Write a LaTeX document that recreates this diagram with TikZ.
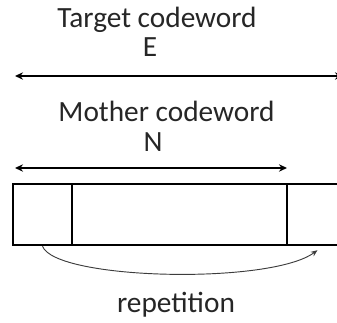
\documentclass[tikz,border=0pt]{standalone}
\usepackage{fontspec}
\setmainfont{Carlito}
\usetikzlibrary{arrows.meta}

\tikzset{
  lbl/.style={anchor=base,inner sep=0pt,font=\fontsize{22}{23}\selectfont,text={rgb,255:red,38;green,38;blue,38}},
  span/.style={{Stealth[length=6pt,width=5.5pt]}-{Stealth[length=6pt,width=5.5pt]},line width=1.9pt},
  cell/.style={draw,line width=1.8pt,inner sep=0pt,minimum height=45.75pt},
  rep/.style={-{Stealth[length=5pt,width=4pt]},line width=0.7pt,draw={rgb,255:red,60;green,60;blue,60}}
}

\begin{document}
\begin{tikzpicture}[x=0.75pt,y=0.75pt,yscale=-1,xscale=1]
\useasboundingbox (0,0) rectangle (337,323);

% texts
\node [lbl] (target) at (157,28) {Target codeword};
\node [lbl] (E) at (150,57) {E};
\node [lbl] (mother) at (166.5,122) {Mother codeword};
\node [lbl] (N) at (153,152) {N};
\node [lbl] (reptxt) at (176,313) {repetition};

% length arrows
\coordinate (tl) at (15,76);
\coordinate (tr) at (343,76);
\draw [span] (tl) -- (tr);
\coordinate (ml) at (15,168);
\coordinate (mr) at (287,168);
\draw [span] (ml) -- (mr);

% codeword cells
\node [cell,minimum width=44.25pt] (first) at (42.5,214.5) {};
\node [cell,minimum width=161.25pt] (body) at (179.5,214.5) {};
\node [cell,minimum width=54.75pt] (tail) at (323.5,214.5) {};

% repetition curve
\coordinate (repend) at ([shift={(-6,4)}]tail.south);
\draw [rep] (first.south) .. controls (55,280) and (270,285) .. (repend);

\end{tikzpicture}
\end{document}
